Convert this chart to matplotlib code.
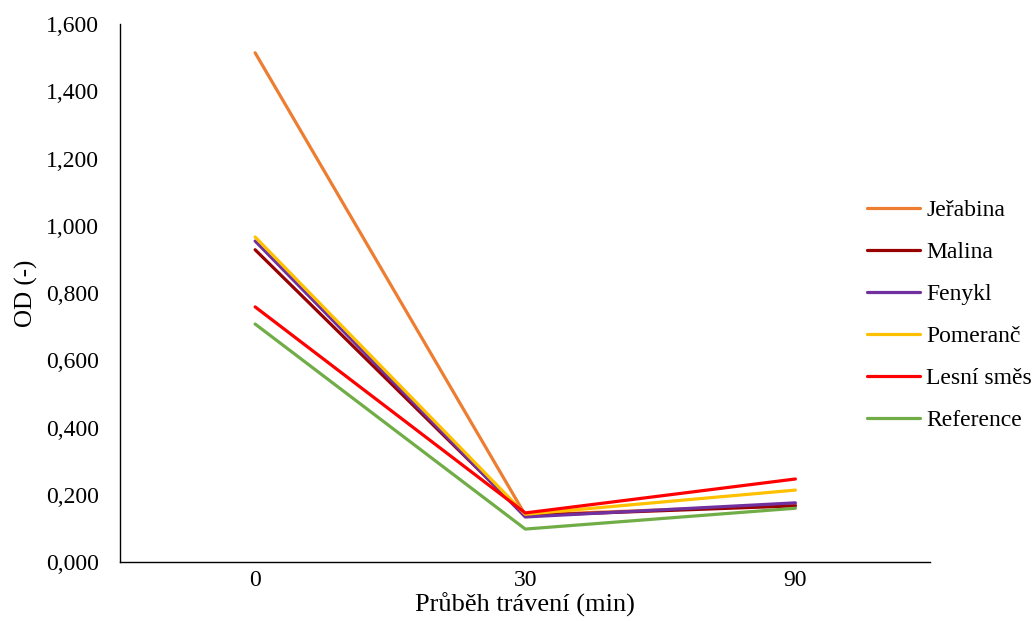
import matplotlib.pyplot as plt
from matplotlib.ticker import FuncFormatter

# OD during digestion for each sample
times = ["0", "30", "90"]
jerabina = [1.515, 0.140, 0.170]
malina = [0.929, 0.138, 0.167]
fenykl = [0.955, 0.134, 0.176]
pomeranc = [0.967, 0.142, 0.214]
lesni_smes = [0.759, 0.146, 0.247]
reference = [0.708, 0.098, 0.160]

series = [
    ("Jeřabina", jerabina, "#ED7D31"),
    ("Malina", malina, "#990000"),
    ("Fenykl", fenykl, "#7030A0"),
    ("Pomeranč", pomeranc, "#FFC000"),
    ("Lesní směs", lesni_smes, "#FF0000"),
    ("Reference", reference, "#70AD47"),
]

plt.rcParams['font.family'] = ['Liberation Serif', 'DejaVu Serif']

fig = plt.figure(figsize=(10.35, 6.21), dpi=100)
ax = fig.add_axes([0.116, 0.095, 0.783, 0.866])

x = list(range(len(times)))
for name, vals, color in series:
    ax.plot(x, vals, color=color, linewidth=2.3, label=name, solid_capstyle='round')

ax.set_xlim(-0.5, len(times) - 0.5)
ax.set_ylim(0, 1.6)
ax.set_xticks(x)
ax.set_xticklabels(times)
ax.set_yticks([i * 0.2 for i in range(9)])
ax.yaxis.set_major_formatter(FuncFormatter(lambda v, p: f"{v:.3f}".replace(".", ",")))
ax.tick_params(length=0, labelsize=17, pad=6)
ax.tick_params(axis='y', pad=15)

for side in ("top", "right"):
    ax.spines[side].set_visible(False)
for side in ("left", "bottom"):
    ax.spines[side].set_linewidth(1.0)

ax.set_xlabel("Průběh trávení (min)", fontsize=19, labelpad=1)
ax.set_ylabel("OD (-)", fontsize=18, labelpad=6)

ax.legend(loc="center left", bbox_to_anchor=(0.838, 0.492), bbox_transform=fig.transFigure,
          frameon=False, fontsize=17, handlelength=2.25, handletextpad=0.25,
          labelspacing=0.87, borderpad=0, borderaxespad=0)

fig.savefig("out.png", dpi=100)
